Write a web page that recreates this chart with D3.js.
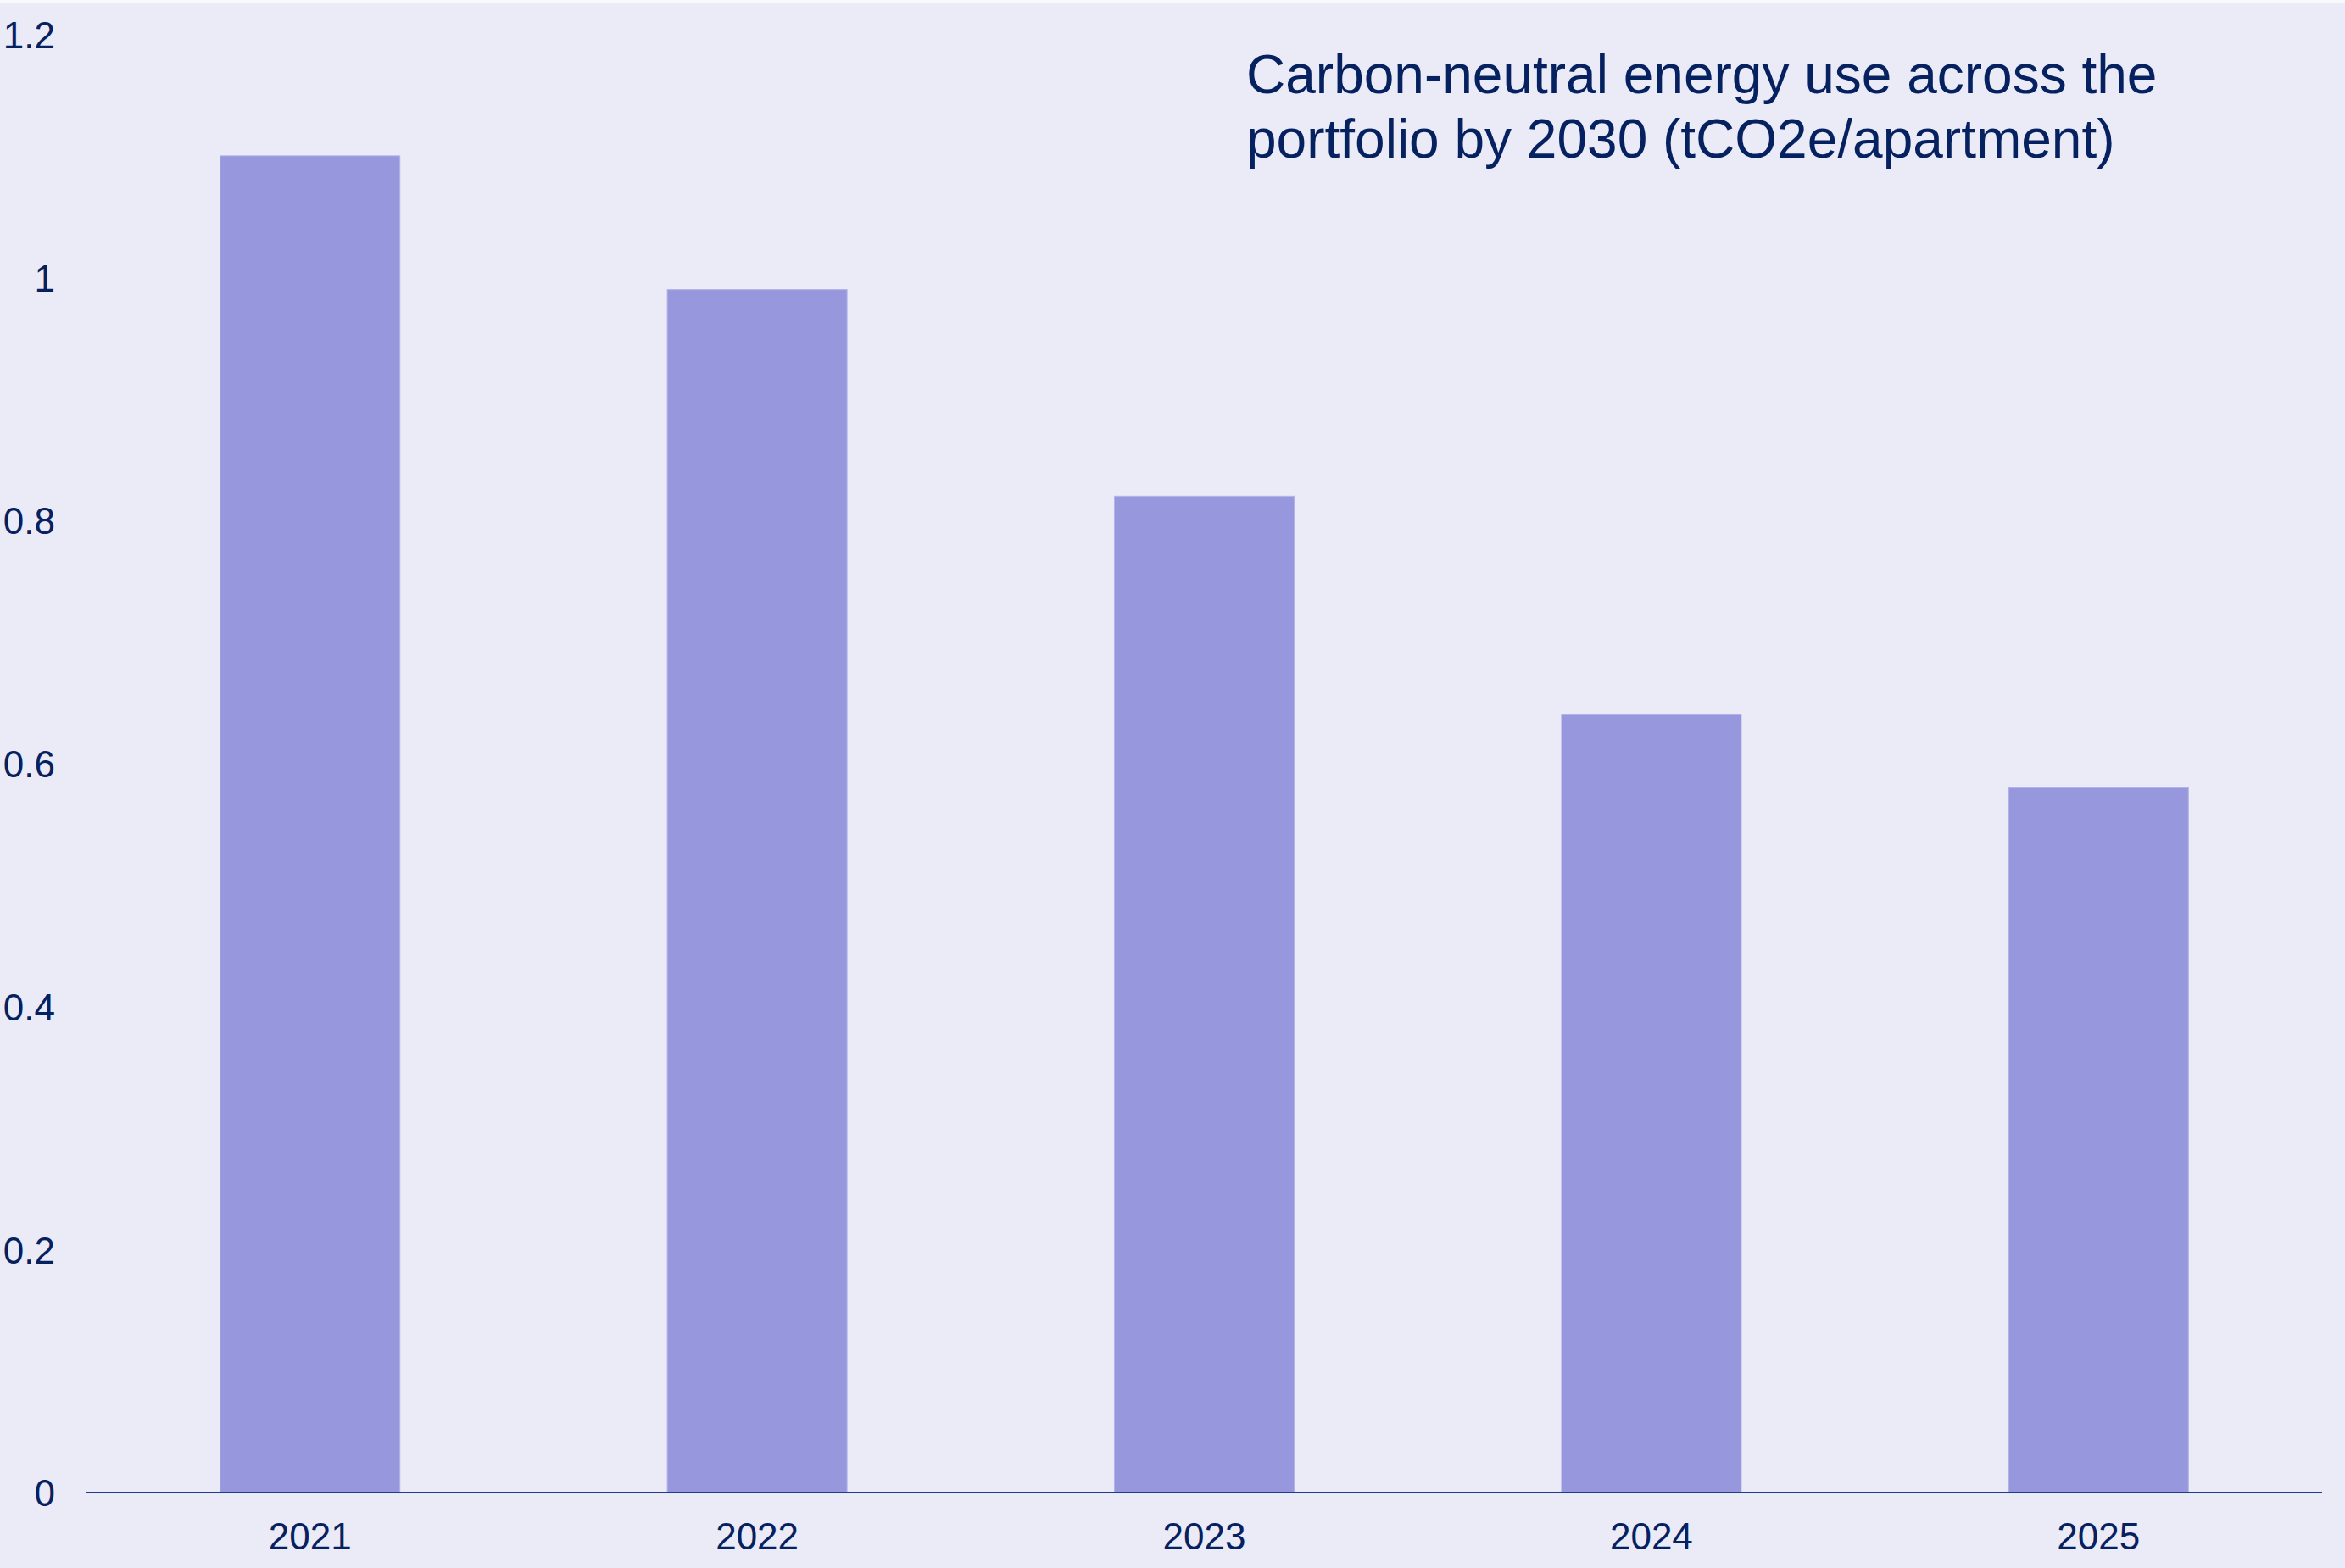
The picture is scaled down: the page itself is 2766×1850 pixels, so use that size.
<!DOCTYPE html>
<html>
<head>
<meta charset="utf-8">
<script src="https://cdn.jsdelivr.net/npm/d3@7"></script>
<style>
  html, body { margin: 0; padding: 0; background: #EBEAF7; }
  svg { display: block; }
  text { font-family: "Liberation Sans", Arial, sans-serif; fill: #06215F; }
</style>
</head>
<body>
<script>
const years = ["2021", "2022", "2023", "2024", "2025"];
const values = [1.10, 0.99, 0.82, 0.64, 0.58];
const yTicks = [0, 0.2, 0.4, 0.6, 0.8, 1, 1.2];
const titleLines = ["Carbon-neutral energy use across the", "portfolio by 2030 (tCO2e/apartment)"];

const W = 2766, H = 1850;
const svg = d3.select("body").append("svg").attr("width", W).attr("height", H);

svg.append("rect").attr("x", 0).attr("y", 0).attr("width", W).attr("height", H).attr("fill", "#EBEAF7");
svg.append("rect").attr("x", 0).attr("y", 0).attr("width", W).attr("height", 4).attr("fill", "#F9F9FA");

const x = d3.scaleBand().domain(years).range([102, 2739]).paddingInner(0.598).paddingOuter(0.299);
const y = d3.scaleLinear().domain([0, 1.2]).range([1761, 40.5]);

// bars
svg.append("g").selectAll("rect").data(years).join("rect")
  .attr("x", d => x(d))
  .attr("y", (d, i) => y(values[i]))
  .attr("width", x.bandwidth())
  .attr("height", (d, i) => y(0) - y(values[i]))
  .attr("fill", "#9797DD")
  .attr("stroke", "#B3B3EA")
  .attr("stroke-width", 1);

// y axis labels (no line)
const yAxis = d3.axisLeft(y).tickValues(yTicks).tickSize(0).tickPadding(0)
  .tickFormat(d => d3.format("")(d));
const gy = svg.append("g").attr("transform", "translate(65,0)").call(yAxis);
gy.select(".domain").remove();
gy.selectAll("text")
  .attr("font-size", 44)
  .attr("font-family", "Liberation Sans, Arial, sans-serif")
  .attr("fill", "#06215F")
  .attr("x", 0)
  .attr("dy", "0.36em");

// x axis
const xAxis = d3.axisBottom(x).tickSize(0).tickPadding(0);
const gx = svg.append("g").attr("transform", `translate(0,${y(0)})`).call(xAxis);
gx.select(".domain").remove();
gx.selectAll("text")
  .attr("font-size", 44)
  .attr("font-family", "Liberation Sans, Arial, sans-serif")
  .attr("fill", "#06215F")
  .attr("y", 67)
  .attr("dy", 0);

svg.append("line")
  .attr("x1", x.range()[0]).attr("x2", x.range()[1])
  .attr("y1", y(0)).attr("y2", y(0))
  .attr("stroke", "#213B8C").attr("stroke-width", 2.2);

// title
const t = svg.append("text").attr("x", 1470).attr("y", 110)
  .attr("font-size", 64).attr("fill", "#06215F");
titleLines.forEach((s, i) => {
  t.append("tspan").attr("x", 1470).attr("y", 110 + i * 76).text(s);
});
</script>
</body>
</html>
